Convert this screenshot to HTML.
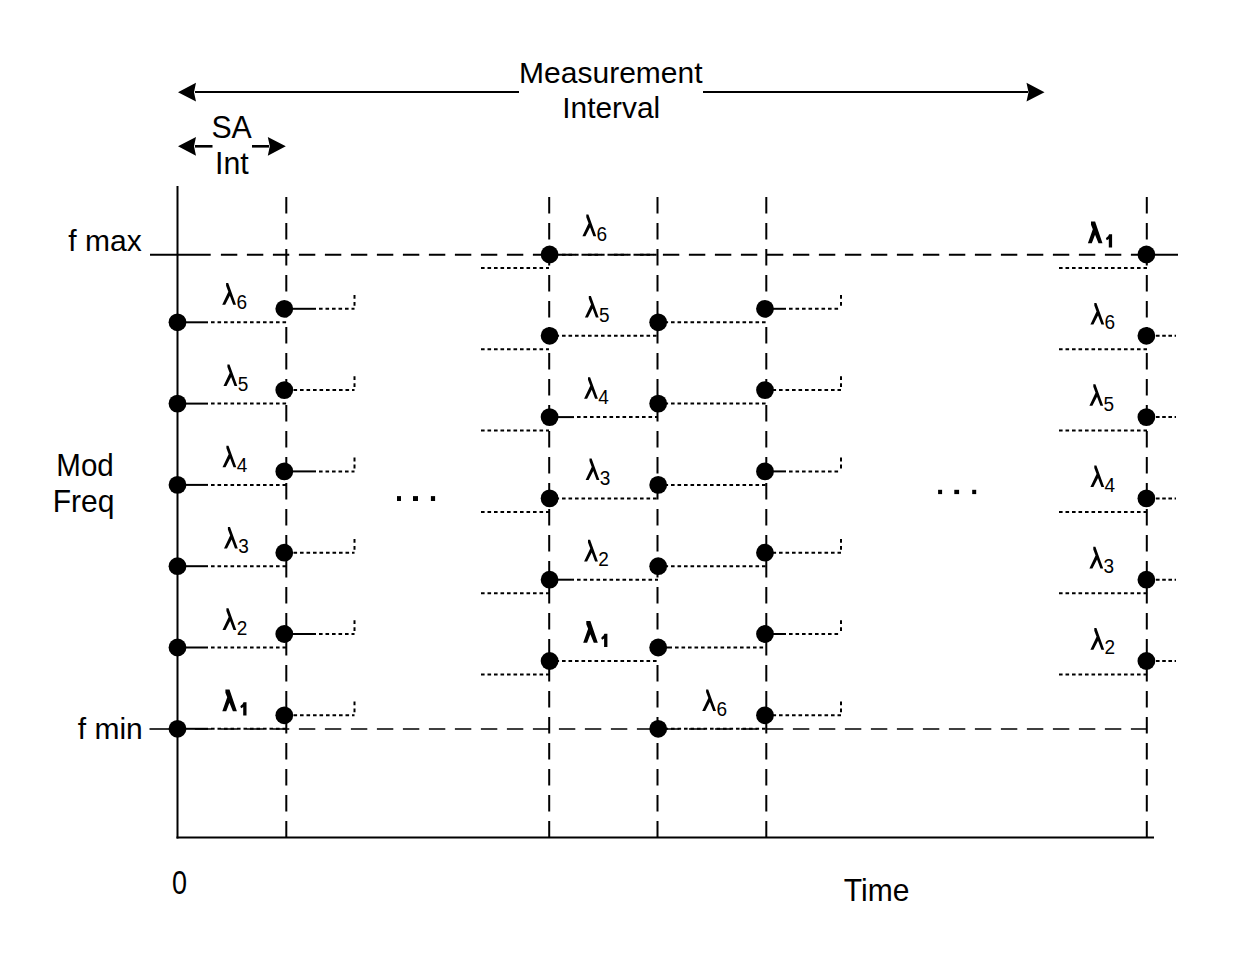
<!DOCTYPE html>
<html><head><meta charset="utf-8"><style>
html,body{margin:0;padding:0;background:#fff;}
svg{display:block;}
text{font-family:"Liberation Sans",sans-serif;fill:#000;stroke:none;}
circle,polygon,rect{stroke:none;}
</style></head><body>
<svg width="1240" height="964" viewBox="0 0 1240 964">
<rect width="1240" height="964" fill="#fff"/>
<g stroke="#000" fill="#000">
<line x1="195" y1="92" x2="519" y2="92" stroke-width="2.2"/>
<line x1="703" y1="92" x2="1028" y2="92" stroke-width="2.2"/>
<polygon points="178,92.2 196,82.8 194,92.2 196,101.60000000000001"/>
<polygon points="1044.5,92.2 1026.5,82.8 1028.5,92.2 1026.5,101.60000000000001"/>
<text x="519.1" y="82.8" font-size="30">Measurement</text>
<text transform="translate(562.3,118.3) scale(0.995,1)" font-size="30">Interval</text>
<line x1="195" y1="146.3" x2="212.5" y2="146.3" stroke-width="2.6"/>
<line x1="252" y1="146.3" x2="269" y2="146.3" stroke-width="2.6"/>
<polygon points="178,146.3 196,136.9 194,146.3 196,155.70000000000002"/>
<polygon points="285.8,146.3 267.8,136.9 269.8,146.3 267.8,155.70000000000002"/>
<text transform="translate(211.4,137.7) scale(1.01,1.05)" font-size="30">SA</text>
<text transform="translate(215.0,173.7) scale(1.01,1.05)" font-size="30">Int</text>
<text x="68.3" y="251" font-size="30">f max</text>
<text x="77.8" y="738.5" font-size="30">f min</text>
<text transform="translate(56.3,475.9) scale(0.985,1.04)" font-size="30">Mod</text>
<text transform="translate(52.8,511.9) scale(1,1.04)" font-size="30">Freq</text>
<text transform="translate(172.0,893.9) scale(0.9,1.08)" font-size="30">0</text>
<text transform="translate(843.8,901) scale(1,1.03)" font-size="30">Time</text>
<line x1="177.5" y1="186" x2="177.5" y2="838.5" stroke-width="2.0"/>
<line x1="176.5" y1="837.5" x2="1154" y2="837.5" stroke-width="2.0"/>
<line x1="286.3" y1="197" x2="286.3" y2="838" stroke-width="2.0" stroke-dasharray="16.4 9.6"/>
<line x1="549.2" y1="197" x2="549.2" y2="838" stroke-width="2.0" stroke-dasharray="16.4 9.6"/>
<line x1="657.5" y1="197" x2="657.5" y2="838" stroke-width="2.0" stroke-dasharray="16.4 9.6"/>
<line x1="766.3" y1="197" x2="766.3" y2="838" stroke-width="2.0" stroke-dasharray="16.4 9.6"/>
<line x1="1146.8" y1="197" x2="1146.8" y2="838" stroke-width="2.0" stroke-dasharray="16.4 9.6"/>
<line x1="220.9" y1="254.8" x2="1131" y2="254.8" stroke-width="2.0" stroke-dasharray="16.4 9.6"/>
<line x1="150" y1="254.8" x2="210.7" y2="254.8" stroke-width="2.0"/>
<line x1="549" y1="254.8" x2="658" y2="254.8" stroke-width="2.0" stroke-dasharray="3.6 2.9"/>
<line x1="1131" y1="254.8" x2="1178" y2="254.8" stroke-width="2.0"/>
<line x1="168.9" y1="729.0" x2="1147" y2="729.0" stroke-width="1.6" stroke-dasharray="16.4 9.6"/>
<line x1="149.5" y1="729.0" x2="170" y2="729.0" stroke-width="1.6"/>
<line x1="177.5" y1="322.3" x2="208" y2="322.3" stroke-width="2.0"/>
<line x1="211" y1="322.3" x2="286.5" y2="322.3" stroke-width="2.0" stroke-dasharray="3.6 2.9"/>
<circle cx="177.5" cy="322.3" r="8.9"/>
<line x1="177.5" y1="403.6" x2="208" y2="403.6" stroke-width="2.0"/>
<line x1="211" y1="403.6" x2="286.5" y2="403.6" stroke-width="2.0" stroke-dasharray="3.6 2.9"/>
<circle cx="177.5" cy="403.6" r="8.9"/>
<line x1="177.5" y1="484.9" x2="208" y2="484.9" stroke-width="2.0"/>
<line x1="211" y1="484.9" x2="286.5" y2="484.9" stroke-width="2.0" stroke-dasharray="3.6 2.9"/>
<circle cx="177.5" cy="484.9" r="8.9"/>
<line x1="177.5" y1="566.2" x2="208" y2="566.2" stroke-width="2.0"/>
<line x1="211" y1="566.2" x2="286.5" y2="566.2" stroke-width="2.0" stroke-dasharray="3.6 2.9"/>
<circle cx="177.5" cy="566.2" r="8.9"/>
<line x1="177.5" y1="647.5" x2="208" y2="647.5" stroke-width="2.0"/>
<line x1="211" y1="647.5" x2="286.5" y2="647.5" stroke-width="2.0" stroke-dasharray="3.6 2.9"/>
<circle cx="177.5" cy="647.5" r="8.9"/>
<line x1="177.5" y1="728.8" x2="208" y2="728.8" stroke-width="2.0"/>
<line x1="211" y1="728.8" x2="286.5" y2="728.8" stroke-width="2.0" stroke-dasharray="3.6 2.9"/>
<circle cx="177.5" cy="728.8" r="8.9"/>
<line x1="287" y1="308.8" x2="316" y2="308.8" stroke-width="2.0"/>
<line x1="319" y1="308.8" x2="354.5" y2="308.8" stroke-width="2.0" stroke-dasharray="3.6 2.9"/>
<line x1="354.5" y1="295.0" x2="354.5" y2="308.8" stroke-width="2" stroke-dasharray="3.8 3.2"/>
<circle cx="284.3" cy="308.8" r="8.9"/>
<line x1="287" y1="390.1" x2="354.5" y2="390.1" stroke-width="2.0" stroke-dasharray="3.6 2.9"/>
<line x1="354.5" y1="376.3" x2="354.5" y2="390.1" stroke-width="2" stroke-dasharray="3.8 3.2"/>
<circle cx="284.3" cy="390.1" r="8.9"/>
<line x1="287" y1="471.4" x2="316" y2="471.4" stroke-width="2.0"/>
<line x1="319" y1="471.4" x2="354.5" y2="471.4" stroke-width="2.0" stroke-dasharray="3.6 2.9"/>
<line x1="354.5" y1="457.59999999999997" x2="354.5" y2="471.4" stroke-width="2" stroke-dasharray="3.8 3.2"/>
<circle cx="284.3" cy="471.4" r="8.9"/>
<line x1="287" y1="552.7" x2="354.5" y2="552.7" stroke-width="2.0" stroke-dasharray="3.6 2.9"/>
<line x1="354.5" y1="538.9000000000001" x2="354.5" y2="552.7" stroke-width="2" stroke-dasharray="3.8 3.2"/>
<circle cx="284.3" cy="552.7" r="8.9"/>
<line x1="287" y1="634.0" x2="316" y2="634.0" stroke-width="2.0"/>
<line x1="319" y1="634.0" x2="354.5" y2="634.0" stroke-width="2.0" stroke-dasharray="3.6 2.9"/>
<line x1="354.5" y1="620.2" x2="354.5" y2="634.0" stroke-width="2" stroke-dasharray="3.8 3.2"/>
<circle cx="284.3" cy="634.0" r="8.9"/>
<line x1="287" y1="715.3" x2="354.5" y2="715.3" stroke-width="2.0" stroke-dasharray="3.6 2.9"/>
<line x1="354.5" y1="701.5" x2="354.5" y2="715.3" stroke-width="2" stroke-dasharray="3.8 3.2"/>
<circle cx="284.3" cy="715.3" r="8.9"/>
<line x1="481" y1="268.0" x2="549" y2="268.0" stroke-width="2.0" stroke-dasharray="3.6 2.9"/>
<circle cx="549.6" cy="254.5" r="8.9"/>
<line x1="481" y1="349.3" x2="549" y2="349.3" stroke-width="2.0" stroke-dasharray="3.6 2.9"/>
<line x1="549" y1="335.8" x2="658" y2="335.8" stroke-width="2.0" stroke-dasharray="3.6 2.9"/>
<circle cx="549.6" cy="335.8" r="8.9"/>
<line x1="481" y1="430.6" x2="549" y2="430.6" stroke-width="2.0" stroke-dasharray="3.6 2.9"/>
<line x1="549" y1="417.1" x2="574" y2="417.1" stroke-width="2.0"/>
<line x1="577" y1="417.1" x2="658" y2="417.1" stroke-width="2.0" stroke-dasharray="3.6 2.9"/>
<circle cx="549.6" cy="417.1" r="8.9"/>
<line x1="481" y1="511.9" x2="549" y2="511.9" stroke-width="2.0" stroke-dasharray="3.6 2.9"/>
<line x1="549" y1="498.4" x2="658" y2="498.4" stroke-width="2.0" stroke-dasharray="3.6 2.9"/>
<circle cx="549.6" cy="498.4" r="8.9"/>
<line x1="481" y1="593.2" x2="549" y2="593.2" stroke-width="2.0" stroke-dasharray="3.6 2.9"/>
<line x1="549" y1="579.7" x2="574" y2="579.7" stroke-width="2.0"/>
<line x1="577" y1="579.7" x2="658" y2="579.7" stroke-width="2.0" stroke-dasharray="3.6 2.9"/>
<circle cx="549.6" cy="579.7" r="8.9"/>
<line x1="481" y1="674.5" x2="549" y2="674.5" stroke-width="2.0" stroke-dasharray="3.6 2.9"/>
<line x1="549" y1="661.0" x2="658" y2="661.0" stroke-width="2.0" stroke-dasharray="3.6 2.9"/>
<circle cx="549.6" cy="661.0" r="8.9"/>
<line x1="658" y1="322.3" x2="766" y2="322.3" stroke-width="2.0" stroke-dasharray="3.6 2.9"/>
<circle cx="658.2" cy="322.3" r="8.9"/>
<line x1="658" y1="403.6" x2="766" y2="403.6" stroke-width="2.0" stroke-dasharray="3.6 2.9"/>
<circle cx="658.2" cy="403.6" r="8.9"/>
<line x1="658" y1="484.9" x2="766" y2="484.9" stroke-width="2.0" stroke-dasharray="3.6 2.9"/>
<circle cx="658.2" cy="484.9" r="8.9"/>
<line x1="658" y1="566.2" x2="766" y2="566.2" stroke-width="2.0" stroke-dasharray="3.6 2.9"/>
<circle cx="658.2" cy="566.2" r="8.9"/>
<line x1="658" y1="647.5" x2="672" y2="647.5" stroke-width="2.0"/>
<line x1="675" y1="647.5" x2="766" y2="647.5" stroke-width="2.0" stroke-dasharray="3.6 2.9"/>
<circle cx="658.2" cy="647.5" r="8.9"/>
<line x1="658" y1="728.8" x2="766" y2="728.8" stroke-width="2.0" stroke-dasharray="3.6 2.9"/>
<circle cx="658.2" cy="728.8" r="8.9"/>
<line x1="766" y1="308.8" x2="786" y2="308.8" stroke-width="2.0"/>
<line x1="789" y1="308.8" x2="841" y2="308.8" stroke-width="2.0" stroke-dasharray="3.6 2.9"/>
<line x1="841" y1="295.0" x2="841" y2="308.8" stroke-width="2" stroke-dasharray="3.8 3.2"/>
<circle cx="765.0" cy="308.8" r="8.9"/>
<line x1="766" y1="390.1" x2="841" y2="390.1" stroke-width="2.0" stroke-dasharray="3.6 2.9"/>
<line x1="841" y1="376.3" x2="841" y2="390.1" stroke-width="2" stroke-dasharray="3.8 3.2"/>
<circle cx="765.0" cy="390.1" r="8.9"/>
<line x1="766" y1="471.4" x2="786" y2="471.4" stroke-width="2.0"/>
<line x1="789" y1="471.4" x2="841" y2="471.4" stroke-width="2.0" stroke-dasharray="3.6 2.9"/>
<line x1="841" y1="457.59999999999997" x2="841" y2="471.4" stroke-width="2" stroke-dasharray="3.8 3.2"/>
<circle cx="765.0" cy="471.4" r="8.9"/>
<line x1="766" y1="552.7" x2="841" y2="552.7" stroke-width="2.0" stroke-dasharray="3.6 2.9"/>
<line x1="841" y1="538.9000000000001" x2="841" y2="552.7" stroke-width="2" stroke-dasharray="3.8 3.2"/>
<circle cx="765.0" cy="552.7" r="8.9"/>
<line x1="766" y1="634.0" x2="786" y2="634.0" stroke-width="2.0"/>
<line x1="789" y1="634.0" x2="841" y2="634.0" stroke-width="2.0" stroke-dasharray="3.6 2.9"/>
<line x1="841" y1="620.2" x2="841" y2="634.0" stroke-width="2" stroke-dasharray="3.8 3.2"/>
<circle cx="765.0" cy="634.0" r="8.9"/>
<line x1="766" y1="715.3" x2="841" y2="715.3" stroke-width="2.0" stroke-dasharray="3.6 2.9"/>
<line x1="841" y1="701.5" x2="841" y2="715.3" stroke-width="2" stroke-dasharray="3.8 3.2"/>
<circle cx="765.0" cy="715.3" r="8.9"/>
<line x1="1059" y1="268.0" x2="1147" y2="268.0" stroke-width="2.0" stroke-dasharray="3.6 2.9"/>
<circle cx="1146.4" cy="254.5" r="8.9"/>
<line x1="1059" y1="349.3" x2="1147" y2="349.3" stroke-width="2.0" stroke-dasharray="3.6 2.9"/>
<line x1="1156" y1="335.8" x2="1176" y2="335.8" stroke-width="2.0" stroke-dasharray="3.6 2.6"/>
<circle cx="1146.4" cy="335.8" r="8.9"/>
<line x1="1059" y1="430.6" x2="1147" y2="430.6" stroke-width="2.0" stroke-dasharray="3.6 2.9"/>
<line x1="1156" y1="417.1" x2="1176" y2="417.1" stroke-width="2.0" stroke-dasharray="3.6 2.6"/>
<circle cx="1146.4" cy="417.1" r="8.9"/>
<line x1="1059" y1="511.9" x2="1147" y2="511.9" stroke-width="2.0" stroke-dasharray="3.6 2.9"/>
<line x1="1156" y1="498.4" x2="1176" y2="498.4" stroke-width="2.0" stroke-dasharray="3.6 2.6"/>
<circle cx="1146.4" cy="498.4" r="8.9"/>
<line x1="1059" y1="593.2" x2="1147" y2="593.2" stroke-width="2.0" stroke-dasharray="3.6 2.9"/>
<line x1="1156" y1="579.7" x2="1176" y2="579.7" stroke-width="2.0" stroke-dasharray="3.6 2.6"/>
<circle cx="1146.4" cy="579.7" r="8.9"/>
<line x1="1059" y1="674.5" x2="1147" y2="674.5" stroke-width="2.0" stroke-dasharray="3.6 2.9"/>
<line x1="1156" y1="661.0" x2="1176" y2="661.0" stroke-width="2.0" stroke-dasharray="3.6 2.6"/>
<circle cx="1146.4" cy="661.0" r="8.9"/>
<rect x="397.0" y="496.1" width="4.0" height="4.9"/>
<rect x="413.0" y="496.1" width="5.0" height="4.9"/>
<rect x="430.9" y="496.1" width="4.2" height="4.9"/>
<rect x="938.1" y="489.8" width="4.0" height="4.3"/>
<rect x="954.3000000000001" y="489.8" width="4.8" height="4.3"/>
<rect x="972.2" y="489.8" width="4.0" height="4.3"/>
<polygon points="226.10,283.10 228.20,283.10 236.00,304.70 233.20,304.70 229.84,295.70 225.20,304.70 222.20,304.70 228.34,291.70 226.10,285.70"/>
<text transform="translate(236.40,309.40) scale(1,1.09)" font-size="19">6</text>
<polygon points="227.40,364.40 229.50,364.40 237.30,386.00 234.50,386.00 231.14,377.00 226.50,386.00 223.50,386.00 229.64,373.00 227.40,367.00"/>
<text transform="translate(237.70,390.70) scale(1,1.09)" font-size="19">5</text>
<polygon points="226.40,445.70 228.50,445.70 236.30,467.30 233.50,467.30 230.14,458.30 225.50,467.30 222.50,467.30 228.64,454.30 226.40,448.30"/>
<text transform="translate(236.70,472.00) scale(1,1.09)" font-size="19">4</text>
<polygon points="227.90,527.00 230.00,527.00 237.80,548.60 235.00,548.60 231.64,539.60 227.00,548.60 224.00,548.60 230.14,535.60 227.90,529.60"/>
<text transform="translate(238.20,553.30) scale(1,1.09)" font-size="19">3</text>
<polygon points="226.40,608.30 228.50,608.30 236.30,629.90 233.50,629.90 230.14,620.90 225.50,629.90 222.50,629.90 228.64,616.90 226.40,610.90"/>
<text transform="translate(236.70,634.60) scale(1,1.09)" font-size="19">2</text>
<polygon points="225.40,689.60 229.50,689.60 236.90,711.20 232.90,711.20 229.45,702.70 226.20,711.20 222.30,711.20 227.20,697.20 225.40,692.70"/>
<polygon points="243.50,702.30 246.50,702.30 246.50,715.60 243.20,715.60 243.20,707.00 241.30,708.20 240.30,706.80 240.90,705.40 242.50,704.20"/>
<polygon points="586.30,214.60 588.40,214.60 596.20,236.20 593.40,236.20 590.04,227.20 585.40,236.20 582.40,236.20 588.54,223.20 586.30,217.20"/>
<text transform="translate(596.60,240.90) scale(1,1.09)" font-size="19">6</text>
<polygon points="588.80,295.90 590.90,295.90 598.70,317.50 595.90,317.50 592.54,308.50 587.90,317.50 584.90,317.50 591.04,304.50 588.80,298.50"/>
<text transform="translate(599.10,322.20) scale(1,1.09)" font-size="19">5</text>
<polygon points="588.00,377.20 590.10,377.20 597.90,398.80 595.10,398.80 591.74,389.80 587.10,398.80 584.10,398.80 590.24,385.80 588.00,379.80"/>
<text transform="translate(598.30,403.50) scale(1,1.09)" font-size="19">4</text>
<polygon points="589.50,458.50 591.60,458.50 599.40,480.10 596.60,480.10 593.24,471.10 588.60,480.10 585.60,480.10 591.74,467.10 589.50,461.10"/>
<text transform="translate(599.80,484.80) scale(1,1.09)" font-size="19">3</text>
<polygon points="588.00,539.80 590.10,539.80 597.90,561.40 595.10,561.40 591.74,552.40 587.10,561.40 584.10,561.40 590.24,548.40 588.00,542.40"/>
<text transform="translate(598.30,566.10) scale(1,1.09)" font-size="19">2</text>
<polygon points="586.30,621.10 590.40,621.10 597.80,642.70 593.80,642.70 590.35,634.20 587.10,642.70 583.20,642.70 588.10,628.70 586.30,624.20"/>
<polygon points="604.40,633.80 607.40,633.80 607.40,647.10 604.10,647.10 604.10,638.50 602.20,639.70 601.20,638.30 601.80,636.90 603.40,635.70"/>
<polygon points="706.10,689.40 708.20,689.40 716.00,711.00 713.20,711.00 709.84,702.00 705.20,711.00 702.20,711.00 708.34,698.00 706.10,692.00"/>
<text transform="translate(716.40,715.70) scale(1,1.09)" font-size="19">6</text>
<polygon points="1091.00,221.60 1095.10,221.60 1102.50,243.20 1098.50,243.20 1095.05,234.70 1091.80,243.20 1087.90,243.20 1092.80,229.20 1091.00,224.70"/>
<polygon points="1109.10,234.30 1112.10,234.30 1112.10,247.60 1108.80,247.60 1108.80,239.00 1106.90,240.20 1105.90,238.80 1106.50,237.40 1108.10,236.20"/>
<polygon points="1094.30,302.90 1096.40,302.90 1104.20,324.50 1101.40,324.50 1098.04,315.50 1093.40,324.50 1090.40,324.50 1096.54,311.50 1094.30,305.50"/>
<text transform="translate(1104.60,329.20) scale(1,1.09)" font-size="19">6</text>
<polygon points="1093.30,384.20 1095.40,384.20 1103.20,405.80 1100.40,405.80 1097.04,396.80 1092.40,405.80 1089.40,405.80 1095.54,392.80 1093.30,386.80"/>
<text transform="translate(1103.60,410.50) scale(1,1.09)" font-size="19">5</text>
<polygon points="1094.30,465.50 1096.40,465.50 1104.20,487.10 1101.40,487.10 1098.04,478.10 1093.40,487.10 1090.40,487.10 1096.54,474.10 1094.30,468.10"/>
<text transform="translate(1104.60,491.80) scale(1,1.09)" font-size="19">4</text>
<polygon points="1093.30,546.80 1095.40,546.80 1103.20,568.40 1100.40,568.40 1097.04,559.40 1092.40,568.40 1089.40,568.40 1095.54,555.40 1093.30,549.40"/>
<text transform="translate(1103.60,573.10) scale(1,1.09)" font-size="19">3</text>
<polygon points="1094.30,628.10 1096.40,628.10 1104.20,649.70 1101.40,649.70 1098.04,640.70 1093.40,649.70 1090.40,649.70 1096.54,636.70 1094.30,630.70"/>
<text transform="translate(1104.60,654.40) scale(1,1.09)" font-size="19">2</text>
</g>
</svg></body></html>
